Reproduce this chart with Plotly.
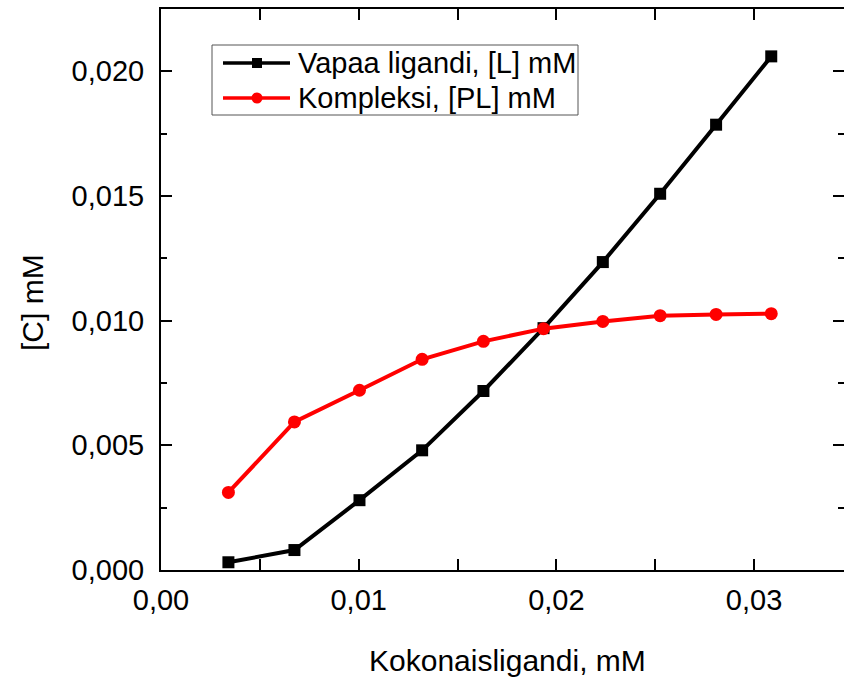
import plotly.graph_objects as go

total_ligand = [0.00341, 0.00675, 0.01004, 0.01321, 0.01631, 0.01935, 0.02235, 0.02525, 0.02808, 0.03087]
free_ligand = [0.00031, 0.00080, 0.00280, 0.00480, 0.00718, 0.00970, 0.01235, 0.01509, 0.01786, 0.02060]
complex_pl = [0.00311, 0.00594, 0.00721, 0.00845, 0.00917, 0.00968, 0.00997, 0.01020, 0.01025, 0.01028]

series_names = ["Vapaa ligandi, [L] mM", "Kompleksi, [PL] mM"]
series_colors = ["black", "#ff0000"]
x_title = "Kokonaisligandi, mM"
y_title = "[C] mM"

FONT = "Liberation Sans, Arial, sans-serif"

# plot-area geometry in pixels (used for converting layout positions)
L, R, T, B = 161, 844, 9, 570
def px(x):
    return (x - L) / (R - L)
def py(y):
    return (B - y) / (B - T)

fig = go.Figure()
fig.add_trace(go.Scatter(x=total_ligand, y=free_ligand, mode="lines+markers", name=series_names[0],
                         line=dict(color=series_colors[0], width=4),
                         marker=dict(symbol="square", size=12, color=series_colors[0])))
fig.add_trace(go.Scatter(x=total_ligand, y=complex_pl, mode="lines+markers", name=series_names[1],
                         line=dict(color=series_colors[1], width=4),
                         marker=dict(symbol="circle", size=13, color=series_colors[1])))
# invisible trace to activate right-side tick axis
fig.add_trace(go.Scatter(x=[None], y=[None], yaxis="y2", showlegend=False, hoverinfo="skip"))

axis_common = dict(showgrid=False, zeroline=False, ticks="inside", tickwidth=2, tickcolor="black",
                   linecolor="black", linewidth=2, tickfont=dict(family=FONT, size=29, color="black"))

# legend drawn as box + samples
shapes = [dict(type="rect", xref="paper", yref="paper", x0=px(212), x1=px(578), y0=py(115), y1=py(45),
               line=dict(color="#555", width=1), fillcolor="white", layer="above")]
annotations = []
rows = [63, 98]
for i, (name, col) in enumerate(zip(series_names, series_colors)):
    yc = rows[i]
    shapes.append(dict(type="line", xref="paper", yref="paper", x0=px(223), x1=px(290), y0=py(yc), y1=py(yc),
                       line=dict(color=col, width=3.5), layer="above"))
    if i == 0:
        shapes.append(dict(type="rect", xref="paper", yref="paper", x0=px(252), x1=px(262),
                           y0=py(yc + 5), y1=py(yc - 5), line=dict(color=col, width=0), fillcolor=col,
                           layer="above"))
    else:
        shapes.append(dict(type="circle", xref="paper", yref="paper", x0=px(251.5), x1=px(262.5),
                           y0=py(yc + 5.5), y1=py(yc - 5.5), line=dict(color=col, width=0), fillcolor=col,
                           layer="above"))
    annotations.append(dict(text=name, xref="paper", yref="paper", x=px(296), y=py(yc), xanchor="left",
                            yanchor="middle", showarrow=False, font=dict(family=FONT, size=29, color="black")))

annotations += [
    dict(text=x_title, xref="paper", yref="paper", x=px(507), y=py(660),
         xanchor="center", yanchor="middle", showarrow=False,
         font=dict(family=FONT, size=30, color="black")),
    dict(text=y_title, xref="paper", yref="paper", x=px(32), y=py(303),
         xanchor="center", yanchor="middle", showarrow=False, textangle=-90,
         font=dict(family=FONT, size=30, color="black")),
]

fig.update_layout(
    width=844, height=681,
    margin=dict(l=L, r=844 - R, t=T, b=681 - B),
    paper_bgcolor="white", plot_bgcolor="white",
    separators=",.",
    font=dict(family=FONT, size=29, color="black"),
    showlegend=False,
    xaxis=dict(range=[0, 0.03455], dtick=0.01, tickformat=".2f", showline=True, mirror="allticks",
               ticklen=11, minor=dict(dtick=0.005, ticks="inside", ticklen=6, tickwidth=2, tickcolor="black"),
               ticklabelstandoff=3, **axis_common),
    yaxis=dict(range=[0, 0.0225], dtick=0.005, tickformat=".3f", showline=True, mirror=False,
               ticklen=11, minor=dict(dtick=0.0025, ticks="inside", ticklen=6, tickwidth=2, tickcolor="black"),
               ticklabelstandoff=9, **axis_common),
    yaxis2=dict(range=[0, 0.0225], dtick=0.005, overlaying="y", side="right", showticklabels=False,
                showline=False, showgrid=False, zeroline=False, ticks="inside", ticklen=11, tickwidth=2,
                tickcolor="black",
                minor=dict(dtick=0.0025, ticks="inside", ticklen=6, tickwidth=2, tickcolor="black")),
    shapes=shapes,
    annotations=annotations,
)

fig.write_html("out.html")
